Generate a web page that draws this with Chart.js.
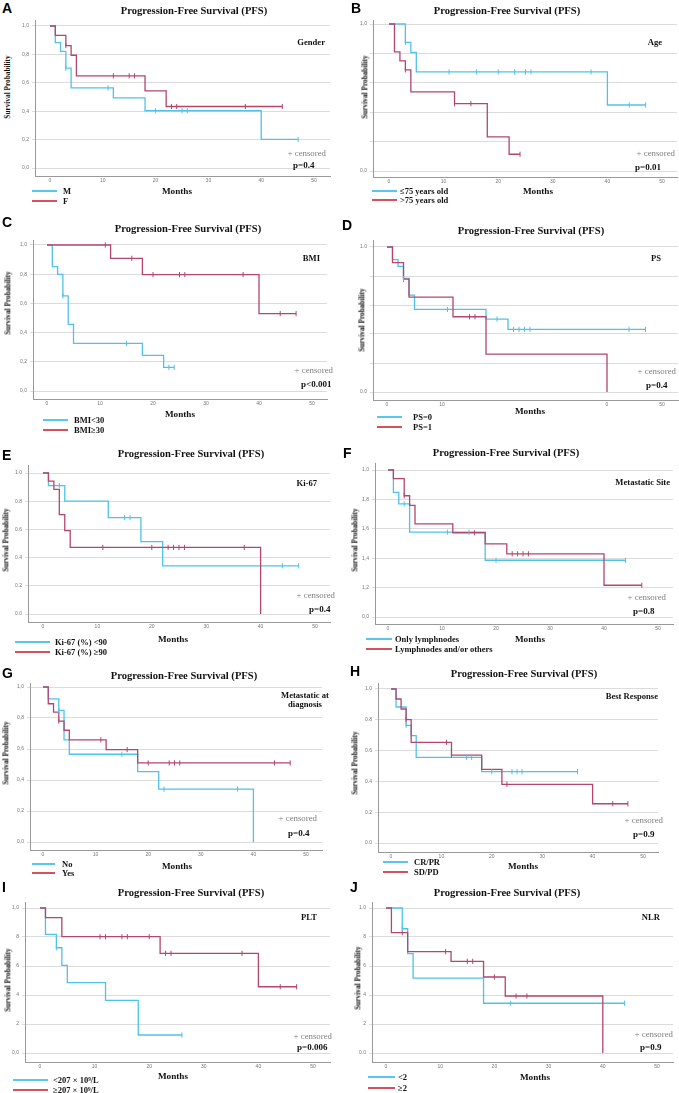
<!DOCTYPE html>
<html>
<head>
<meta charset="utf-8">
<script src="https://cdn.jsdelivr.net/npm/chart.js@4.4.1/dist/chart.umd.min.js"></script>
<style>
  body { margin: 0; background: #fff; }
  #page { position: relative; width: 679px; height: 1093px; overflow: hidden; font-family: 'Liberation Serif', 'Times New Roman', serif; }
  .t { position: absolute; white-space: nowrap; line-height: 1; color: #111; }
  canvas { position: absolute; }
</style>
</head>
<body>
<div id="page"></div>
<script>
// ---- data: event times (months), survival after each event, censor times ----
const xTickLabels = ['0', '10', '20', '30', '40', '50'];
const xTickLabelsD = ['0', '10', '', '', '0', '50'];
const yTicksComma = ['0,0', '0,2', '0,4', '0,6', '0,8', '1,0'];
const yTicksDot = ['0.0', '0.2', '0.4', '0.6', '0.8', '1.0'];
const yTicksB = ['0,0', '', '', '', '', '1,0'];
const yTicksD = ['0.0', '', '', '', '', '1.0'];
const yTicksF = ['0,0', '1,2', '1,4', '1,6', '1,8', '1,0'];
const yTicksI = ['0,0', '2', '4', '6', '8', '1,0'];
const yTicksJ = ['0.0', '2', '4', '6', '8', '1.0'];

// A - Gender
const aMTimes = [1, 2, 3, 4, 12, 18, 40];
const aMSurv = [0.883, 0.822, 0.703, 0.564, 0.494, 0.403, 0.201];
const aMCens = [3, 11, 20, 25, 26, 47];
const aFTimes = [1, 3, 4, 5, 18, 22];
const aFSurv = [0.934, 0.862, 0.794, 0.649, 0.543, 0.433];
const aFCens = [3, 12, 15, 16, 23, 24, 37, 44];
// B - Age
const bYoungTimes = [3, 4, 5, 40];
const bYoungSurv = [0.875, 0.806, 0.674, 0.449];
const bYoungCens = [3, 11, 16, 20, 23, 25, 26, 37, 44, 47];
const bOldTimes = [1, 2, 3, 4, 12, 18, 22];
const bOldSurv = [0.811, 0.749, 0.688, 0.538, 0.458, 0.232, 0.114];
const bOldCens = [3, 12, 15, 24];
// C - BMI
const cLowTimes = [1, 2, 3, 4, 5, 18, 22];
const cLowSurv = [0.852, 0.799, 0.651, 0.457, 0.326, 0.244, 0.162];
const cLowCens = [3, 15, 23, 24];
const cHighTimes = [12, 18, 40];
const cHighSurv = [0.909, 0.797, 0.530];
const cHighCens = [11, 16, 20, 25, 26, 37, 44, 47];
// D - PS
const dPs0Times = [1, 2, 3, 4, 5, 18, 22];
const dPs0Surv = [0.913, 0.867, 0.783, 0.668, 0.570, 0.503, 0.432];
const dPs0Cens = [3, 11, 20, 23, 24, 25, 26, 44, 47];
const dPs1Times = [1, 3, 4, 12, 18, 40];
const dPs1Surv = [0.892, 0.778, 0.654, 0.519, 0.261, 0];
const dPs1Cens = [3, 15, 16];
// E - Ki-67
const eLowTimes = [1, 4, 12, 18, 22];
const eLowSurv = [0.910, 0.800, 0.684, 0.514, 0.342];
const eLowCens = [3, 15, 16, 44, 47];
const eHighTimes = [1, 2, 3, 4, 5, 40];
const eHighSurv = [0.943, 0.884, 0.705, 0.592, 0.472, 0];
const eHighCens = [11, 20, 23, 24, 25, 26, 37];
// F - Metastatic site
const fLymphTimes = [1, 2, 4, 18];
const fLymphSurv = [0.848, 0.770, 0.577, 0.386];
const fLymphCens = [3, 11, 15, 20, 44];
const fOtherTimes = [1, 3, 4, 5, 12, 18, 22, 40];
const fOtherSurv = [0.941, 0.825, 0.759, 0.634, 0.573, 0.498, 0.430, 0.216];
const fOtherCens = [3, 16, 23, 24, 25, 26, 47];
// G - Metastatic at diagnosis
const gNoTimes = [1, 3, 4, 5, 18, 22, 40];
const gNoSurv = [0.924, 0.849, 0.659, 0.566, 0.454, 0.341, 0];
const gNoCens = [3, 15, 23, 37];
const gYesTimes = [1, 2, 3, 4, 5, 12, 18];
const gYesSurv = [0.892, 0.838, 0.780, 0.721, 0.659, 0.596, 0.510];
const gYesCens = [3, 11, 16, 20, 24, 25, 26, 44, 47];
// H - Best response
const hCrTimes = [1, 3, 4, 5, 18];
const hCrSurv = [0.883, 0.764, 0.697, 0.556, 0.463];
const hCrCens = [3, 15, 16, 20, 24, 25, 26, 37];
const hSdTimes = [1, 2, 3, 4, 12, 18, 22, 40];
const hSdSurv = [0.935, 0.870, 0.801, 0.654, 0.571, 0.478, 0.381, 0.255];
const hSdCens = [3, 11, 12, 23, 44, 47];
// I - PLT
const iLowTimes = [1, 3, 4, 5, 12, 18];
const iLowSurv = [0.818, 0.726, 0.605, 0.485, 0.363, 0.124];
const iLowCens = [3, 26];
const iHighTimes = [1, 4, 22, 40];
const iHighSurv = [0.933, 0.802, 0.687, 0.457];
const iHighCens = [11, 12, 15, 16, 20, 23, 24, 37, 44, 47];
// J - NLR
const jLowTimes = [3, 4, 5, 18];
const jLowSurv = [0.857, 0.685, 0.517, 0.343];
const jLowCens = [3, 23, 44];
const jHighTimes = [1, 4, 12, 18, 22, 40];
const jHighSurv = [0.830, 0.699, 0.632, 0.524, 0.393, 0];
const jHighCens = [3, 11, 15, 16, 20, 24, 26];

const BLUE = '#4fc2ec';
const RED = '#b4466e';
const LEG_BLUE = '#58c6ee';
const LEG_RED = '#d4525e';

// layout of each panel (page pixels)
const panels = [
  { letter: 'A', group: ['Gender'], p: 'p=0.4', names: ['M', 'F'],
    series: [[aMTimes, aMSurv, aMCens], [aFTimes, aFSurv, aFCens]], xLab: xTickLabels, yLab: yTicksComma,
    box: { L: 35, R: 330, T: 20, B: 176, x0: 50, x50: 314, y1: 26, y0: 168 },
    letterAt: [2, 2], titleAt: [194, 11], yTitleAt: [8, 87], groupAt: [325, 42], censAt: [326, 153], pAt: [293, 165],
    monthsAt: [177, 192], leg: { x1: 32, x2: 57, tx: 63, y: [191, 201] } },
  { letter: 'B', group: ['Age'], p: 'p=0.01', names: ['\u226475 years old', '>75 years old'],
    series: [[bYoungTimes, bYoungSurv, bYoungCens], [bOldTimes, bOldSurv, bOldCens]], xLab: xTickLabels, yLab: yTicksB,
    box: { L: 373, R: 677, T: 20, B: 177, x0: 389, x50: 662, y1: 24, y0: 171 },
    letterAt: [351, 2], titleAt: [507, 11], yTitleAt: [365, 87], groupAt: [662, 42], censAt: [675, 153], pAt: [635, 167],
    monthsAt: [538, 192], leg: { x1: 372, x2: 397, tx: 400, y: [191, 200] } },
  { letter: 'C', group: ['BMI'], p: 'p<0.001', names: ['BMI<30', 'BMI\u226530'],
    series: [[cLowTimes, cLowSurv, cLowCens], [cHighTimes, cHighSurv, cHighCens]], xLab: xTickLabels, yLab: yTicksComma,
    box: { L: 33, R: 327, T: 240, B: 399, x0: 47, x50: 312, y1: 245, y0: 391 },
    letterAt: [2, 216], titleAt: [188, 229], yTitleAt: [8, 303], groupAt: [320, 258], censAt: [333, 370], pAt: [301, 384],
    monthsAt: [180, 415], leg: { x1: 43, x2: 68, tx: 74, y: [420, 430] } },
  { letter: 'D', group: ['PS'], p: 'p=0.4', names: ['PS=0', 'PS=1'],
    series: [[dPs0Times, dPs0Surv, dPs0Cens], [dPs1Times, dPs1Surv, dPs1Cens]], xLab: xTickLabelsD, yLab: yTicksD,
    box: { L: 373, R: 678, T: 240, B: 400, x0: 387, x50: 662, y1: 247, y0: 392 },
    letterAt: [342, 219], titleAt: [531, 231], yTitleAt: [362, 320], groupAt: [661, 258], censAt: [676, 371], pAt: [646, 385],
    monthsAt: [530, 412], leg: { x1: 377, x2: 402, tx: 413, y: [417, 427] } },
  { letter: 'E', group: ['Ki-67'], p: 'p=0.4', names: ['Ki-67 (%) <90', 'Ki-67 (%) \u226590'],
    series: [[eLowTimes, eLowSurv, eLowCens], [eHighTimes, eHighSurv, eHighCens]], xLab: xTickLabels, yLab: yTicksDot,
    box: { L: 28, R: 330, T: 465, B: 622, x0: 43, x50: 315, y1: 473, y0: 614 },
    letterAt: [2, 449], titleAt: [191, 454], yTitleAt: [6, 540], groupAt: [317, 483], censAt: [335, 595], pAt: [309, 609],
    monthsAt: [173, 640], leg: { x1: 15, x2: 50, tx: 55, y: [642, 652] } },
  { letter: 'F', group: ['Metastatic Site'], p: 'p=0.8', names: ['Only lymphnodes', 'Lymphnodes and/or others'],
    series: [[fLymphTimes, fLymphSurv, fLymphCens], [fOtherTimes, fOtherSurv, fOtherCens]], xLab: xTickLabels, yLab: yTicksF,
    box: { L: 375, R: 673, T: 463, B: 624, x0: 388, x50: 658, y1: 470, y0: 617 },
    letterAt: [343, 447], titleAt: [506, 453], yTitleAt: [355, 540], groupAt: [670, 482], censAt: [666, 597], pAt: [633, 611],
    monthsAt: [530, 640], leg: { x1: 366, x2: 392, tx: 395, y: [639, 649] } },
  { letter: 'G', group: ['Metastatic at', 'diagnosis'], p: 'p=0.4', names: ['No', 'Yes'],
    series: [[gNoTimes, gNoSurv, gNoCens], [gYesTimes, gYesSurv, gYesCens]], xLab: xTickLabels, yLab: yTicksComma,
    box: { L: 30, R: 322, T: 683, B: 850, x0: 43, x50: 306, y1: 687, y0: 842 },
    letterAt: [2, 667], titleAt: [184, 676], yTitleAt: [6, 753], groupAt: [305, 695], censAt: [317, 818], pAt: [288, 833],
    monthsAt: [177, 867], leg: { x1: 32, x2: 55, tx: 62, y: [864, 873] } },
  { letter: 'H', group: ['Best Response'], p: 'p=0.9', names: ['CR/PR', 'SD/PD'],
    series: [[hCrTimes, hCrSurv, hCrCens], [hSdTimes, hSdSurv, hSdCens]], xLab: xTickLabels, yLab: yTicksDot,
    box: { L: 378, R: 658, T: 683, B: 852, x0: 391, x50: 643, y1: 689, y0: 843 },
    letterAt: [350, 665], titleAt: [524, 674], yTitleAt: [355, 763], groupAt: [658, 696], censAt: [663, 820], pAt: [633, 834],
    monthsAt: [523, 867], leg: { x1: 383, x2: 408, tx: 414, y: [862, 872] } },
  { letter: 'I', group: ['PLT'], p: 'p=0.006', names: ['<207 \u00d7 10\u2079/L', '\u2265207 \u00d7 10\u2079/L'],
    series: [[iLowTimes, iLowSurv, iLowCens], [iHighTimes, iHighSurv, iHighCens]], xLab: xTickLabels, yLab: yTicksI,
    box: { L: 25, R: 330, T: 902, B: 1062, x0: 40, x50: 313, y1: 908, y0: 1053 },
    letterAt: [2, 881], titleAt: [191, 893], yTitleAt: [8, 980], groupAt: [317, 917], censAt: [332, 1036], pAt: [297, 1047],
    monthsAt: [173, 1077], leg: { x1: 13, x2: 48, tx: 53, y: [1080, 1090] } },
  { letter: 'J', group: ['NLR'], p: 'p=0.9', names: ['<2', '\u22652'],
    series: [[jLowTimes, jLowSurv, jLowCens], [jHighTimes, jHighSurv, jHighCens]], xLab: xTickLabels, yLab: yTicksJ,
    box: { L: 372, R: 673, T: 902, B: 1062, x0: 386, x50: 657, y1: 908, y0: 1053 },
    letterAt: [350, 881], titleAt: [507, 893], yTitleAt: [358, 978], groupAt: [660, 917], censAt: [673, 1034], pAt: [640, 1047],
    monthsAt: [535, 1078], leg: { x1: 368, x2: 395, tx: 398, y: [1077, 1088] } }
];

const page = document.getElementById('page');

// put a text at x,y (align: 'l', 'c' or 'r'; y is the vertical centre)
function addText(str, x, y, css, align) {
  const d = document.createElement('div');
  d.className = 't';
  d.textContent = str;
  Object.assign(d.style, css);
  d.style.left = x + 'px';
  d.style.top = y + 'px';
  const tx = align === 'c' ? '-50%' : align === 'r' ? '-100%' : '0';
  d.style.transform = 'translate(' + tx + ',-50%)' + (css.rot ? ' rotate(-90deg)' : '');
  page.appendChild(d);
  return d;
}

function stepPoints(times, surv, cens) {
  const pts = [{ x: 0, y: 1 }];
  times.forEach((t, i) => pts.push({ x: t, y: surv[i] }));
  const lastEvent = times[times.length - 1];
  const lastCens = cens.length ? cens[cens.length - 1] : 0;
  if (lastCens > lastEvent) pts.push({ x: lastCens, y: surv[surv.length - 1] });
  return pts;
}

function levelAt(times, surv, t) {
  let s = 1;
  times.forEach((tt, i) => { if (tt <= t) s = surv[i]; });
  return s;
}

const PAD_TOP = 8, PAD_RIGHT = 6, Y_W = 22, X_H = 12;

panels.forEach(p => {
  const b = p.box;
  const pxPerMonth = (b.x50 - b.x0) / 50;
  const pxPerUnit = b.y0 - b.y1;

  const cv = document.createElement('canvas');
  const w = b.R - b.L + Y_W + PAD_RIGHT;
  const h = b.B - b.T + PAD_TOP + X_H;
  cv.width = w; cv.height = h;
  cv.style.left = (b.L - Y_W) + 'px';
  cv.style.top = (b.T - PAD_TOP) + 'px';
  cv.style.width = w + 'px';
  cv.style.height = h + 'px';
  page.appendChild(cv);

  const colors = [BLUE, RED];
  const datasets = [];
  p.series.forEach((s, k) => {
    datasets.push({
      type: 'line', data: stepPoints(s[0], s[1], s[2]), stepped: true,
      borderColor: colors[k], borderWidth: 1.3, pointRadius: 0, fill: false, order: 2 - k
    });
  });
  p.series.forEach((s, k) => {
    datasets.push({
      type: 'scatter', data: s[2].map(t => ({ x: t, y: levelAt(s[0], s[1], t) })),
      pointStyle: 'line', rotation: 90, pointRadius: 2.6, pointBorderWidth: 1,
      borderColor: colors[k], backgroundColor: colors[k], order: 0
    });
  });

  new Chart(cv, {
    type: 'line',
    data: { datasets },
    options: {
      responsive: false,
      animation: false,
      events: [],
      layout: { padding: { top: PAD_TOP, right: PAD_RIGHT, left: 0, bottom: 0 } },
      plugins: { legend: { display: false }, tooltip: { enabled: false } },
      scales: {
        x: {
          type: 'linear',
          min: (b.L - b.x0) / pxPerMonth,
          max: 50 + (b.R - b.x50) / pxPerMonth,
          grid: { display: false, drawTicks: false },
          border: { display: true, color: '#999', width: 1 },
          ticks: {
            stepSize: 10, includeBounds: false, autoSkip: false, maxRotation: 0, padding: 2,
            color: '#777', font: { family: 'Liberation Sans', size: 5 },
            callback: v => { const i = Math.round(v / 10); return (i >= 0 && i <= 5) ? p.xLab[i] : ''; }
          },
          afterFit: s => { s.height = X_H; }
        },
        y: {
          min: -(b.B - b.y0) / pxPerUnit,
          max: 1 + (b.y1 - b.T) / pxPerUnit,
          grid: { color: '#dcdcdc', lineWidth: 1, tickLength: 3 },
          border: { display: true, color: '#999', width: 1 },
          ticks: {
            stepSize: 0.2, includeBounds: false, padding: 3,
            color: '#777', font: { family: 'Liberation Sans', size: 5 },
            callback: v => { const i = Math.round(v * 5); return (i >= 0 && i <= 5) ? p.yLab[i] : ''; }
          },
          afterFit: s => { s.width = Y_W; }
        }
      }
    }
  });

  // texts around the plot
  addText(p.letter, p.letterAt[0], p.letterAt[1] + 6,
    { fontFamily: 'Liberation Sans, Arial, sans-serif', fontWeight: 'bold', fontSize: '14px', color: '#000' }, 'l');
  addText('Progression-Free Survival (PFS)', p.titleAt[0], p.titleAt[1],
    { fontWeight: 'bold', fontSize: '10.6px' }, 'c');
  addText('Survival Probability', p.yTitleAt[0], p.yTitleAt[1],
    { fontWeight: 'bold', fontSize: '7.3px', rot: true }, 'c');
  if (p.group.length === 1) {
    addText(p.group[0], p.groupAt[0], p.groupAt[1], { fontWeight: 'bold', fontSize: '8.6px' }, 'r');
  } else {
    addText(p.group[0], p.groupAt[0], p.groupAt[1], { fontWeight: 'bold', fontSize: '8.6px' }, 'c');
    addText(p.group[1], p.groupAt[0], p.groupAt[1] + 8.5, { fontWeight: 'bold', fontSize: '8.6px' }, 'c');
  }
  addText('+ censored', p.censAt[0], p.censAt[1], { fontSize: '8.8px', color: '#808080' }, 'r');
  addText(p.p, p.pAt[0], p.pAt[1], { fontWeight: 'bold', fontSize: '9px' }, 'l');
  addText('Months', p.monthsAt[0], p.monthsAt[1], { fontWeight: 'bold', fontSize: '9.2px' }, 'c');

  const legColors = [LEG_BLUE, LEG_RED];
  p.names.forEach((n, k) => {
    const ln = document.createElement('div');
    Object.assign(ln.style, {
      position: 'absolute', left: p.leg.x1 + 'px', top: (p.leg.y[k] - 1) + 'px',
      width: (p.leg.x2 - p.leg.x1) + 'px', height: '1.6px', background: legColors[k]
    });
    page.appendChild(ln);
    addText(n, p.leg.tx, p.leg.y[k], { fontWeight: 'bold', fontSize: '8.5px' }, 'l');
  });
});
</script>
</body>
</html>
